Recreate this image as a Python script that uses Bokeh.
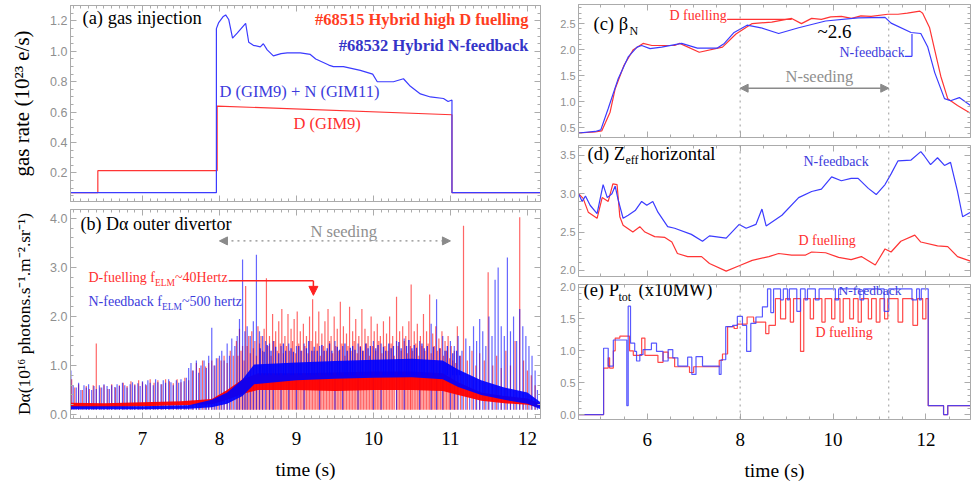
import numpy as np
from bokeh.plotting import figure
from bokeh.models import (Range1d, LinearAxis, Label, Span, Arrow, NormalHead,
                          FixedTicker, PrintfTickFormatter, CustomLabelingPolicy)
from bokeh.layouts import row, column
from bokeh.embed import file_html
from bokeh.resources import INLINE

# ------------------------------------------------------------------ data
# (a) gas injection (1e23 e/s)
gas_t_d = [6.065, 6.42, 6.42, 7.97, 7.97, 11.02, 11.02, 12.17]
gas_v_d = [0.07, 0.07, 0.215, 0.215, 0.64, 0.583, 0.07, 0.07]
gas_t_dn = [6.065, 7.96, 7.96, 7.99, 8.05, 8.08, 8.12, 8.17, 8.23, 8.34, 8.38, 8.44,
            8.53, 8.57, 8.62, 8.70, 8.80, 8.88, 9.05, 9.18, 9.25, 9.42, 9.48, 9.61,
            9.83, 9.99, 10.05, 10.26, 10.39, 10.48, 10.61, 10.74, 10.91, 10.97,
            11.02, 11.02, 12.17]
gas_v_dn = [0.07, 0.07, 1.15, 1.19, 1.23, 1.24, 1.21, 1.087, 1.12, 1.185, 1.06, 1.04,
            1.03, 1.05, 1.01, 0.97, 0.985, 0.99, 0.99, 0.98, 0.95, 0.91, 0.90, 0.90,
            0.875, 0.85, 0.80, 0.80, 0.82, 0.77, 0.72, 0.70, 0.69, 0.67,
            0.68, 0.07, 0.07]

# (b) D-alpha outer divertor (1e16 ph/s/m2/sr): inter-ELM band + ELM spikes
da_band_t_red = [6.065, 6.5, 7.0, 7.5, 7.9, 8.1, 8.3, 8.5, 9.0, 9.5, 10.0, 10.5,
                 10.9, 11.1, 11.4, 11.7, 12.0, 12.17]
da_lo_red = [0.15, 0.15, 0.17, 0.19, 0.21, 0.30, 0.42, 0.50, 0.50, 0.48, 0.50, 0.50,
             0.48, 0.40, 0.28, 0.23, 0.20, 0.14]
da_hi_red = [0.24, 0.23, 0.25, 0.27, 0.32, 0.50, 0.72, 0.84, 0.84, 0.86, 0.88, 0.88,
             0.84, 0.66, 0.45, 0.38, 0.33, 0.22]
da_band_t_blue = [6.065, 7.0, 7.6, 7.9, 8.1, 8.3, 8.45, 9.0, 9.5, 10.0, 10.5, 10.9,
                  11.1, 11.4, 11.7, 12.0, 12.17]
da_lo_blue = [0.11, 0.11, 0.12, 0.15, 0.22, 0.38, 0.62, 0.70, 0.73, 0.75, 0.76, 0.72,
              0.56, 0.40, 0.30, 0.22, 0.11]
da_hi_blue = [0.17, 0.17, 0.19, 0.30, 0.45, 0.72, 1.02, 1.06, 1.09, 1.12, 1.14, 1.10,
              0.92, 0.70, 0.55, 0.45, 0.25]

elm_t_red = [6.08, 6.12, 6.17, 6.22, 6.27, 6.31, 6.36, 6.40, 6.45, 6.50, 6.55, 6.60,
             6.65, 6.70, 6.75, 6.80, 6.85, 6.90, 6.95, 7.00, 7.05, 7.10, 7.15, 7.20,
             7.25, 7.30, 7.35, 7.40, 7.45, 7.50, 7.55, 7.60, 7.65, 7.70, 7.74, 7.78,
             7.82, 7.86, 7.90, 7.94, 7.98, 8.02, 8.06, 8.10, 8.14, 8.18, 8.22, 8.26,
             8.30, 8.34, 8.38, 8.42, 8.46, 8.50, 8.54, 8.58, 8.61, 8.65, 8.69, 8.73,
             8.77, 8.81, 8.85, 8.89, 8.93, 8.97, 9.01, 9.05, 9.09, 9.13, 9.17, 9.21,
             9.25, 9.29, 9.33, 9.37, 9.41, 9.45, 9.49, 9.53, 9.57, 9.61, 9.65, 9.69,
             9.73, 9.77, 9.81, 9.85, 9.89, 9.93, 9.97, 10.01, 10.05, 10.09, 10.13,
             10.17, 10.21, 10.25, 10.30, 10.34, 10.38, 10.42, 10.46, 10.49, 10.53,
             10.57, 10.61, 10.65, 10.69, 10.73, 10.77, 10.81, 10.85, 10.89, 10.93,
             10.97, 11.01, 11.05, 11.09, 11.13, 11.17, 11.22, 11.28, 11.33, 11.38,
             11.44, 11.49, 11.55, 11.60, 11.66, 11.72, 11.78, 11.84, 11.90, 11.95,
             12.00, 12.05, 12.10]
elm_h_red = [0.72, 0.55, 0.62, 0.50, 0.58, 0.52, 0.60, 1.45, 0.55, 0.60, 0.52, 0.62,
             0.55, 0.60, 0.65, 0.58, 0.68, 0.62, 0.70, 0.66, 0.60, 0.72, 0.65, 0.70,
             0.62, 0.72, 0.68, 0.64, 0.72, 0.66, 0.75, 0.70, 0.90, 1.05, 0.95, 1.10,
             0.98, 1.05, 1.10, 1.00, 1.15, 1.10, 1.20, 1.05, 1.30, 1.20, 1.50, 1.75,
             1.40, 2.62, 1.60, 1.70, 1.50, 1.80, 1.60, 1.75, 2.78, 1.60, 2.05, 1.70,
             1.90, 2.15, 1.60, 2.05, 1.75, 1.95, 2.10, 1.70, 1.85, 1.60, 2.00, 2.35,
             1.70, 2.10, 1.65, 1.90, 2.15, 1.60, 2.00, 1.75, 2.30, 1.80, 1.65, 2.20,
             1.70, 1.95, 1.60, 2.15, 1.75, 1.60, 2.00, 1.70, 1.85, 1.60, 1.90,
             1.65, 2.00, 1.60, 2.40, 1.70, 1.80, 1.60, 1.90, 2.65, 1.70,
             1.85, 1.60, 2.05, 1.70, 2.45, 1.65, 1.80, 1.55, 1.70, 1.50,
             1.60, 1.40, 1.30, 1.80, 1.20, 3.85, 1.10, 1.30, 1.00, 1.25,
             1.10, 2.90, 1.00, 1.20, 0.95, 1.30, 1.00, 1.50, 4.02, 1.10,
             0.90, 0.80, 0.60]
elm_t_red_small = [8.24, 8.28, 8.32, 8.36, 8.40, 8.44, 8.48, 8.52, 8.56, 8.63, 8.67,
                   8.71, 8.75, 8.79, 8.83, 8.87, 8.91, 8.95, 8.99, 9.03, 9.07, 9.11,
                   9.15, 9.19, 9.23, 9.27, 9.31, 9.35, 9.39, 9.43, 9.47, 9.51, 9.55,
                   9.59, 9.63, 9.67, 9.71, 9.75, 9.79, 9.83, 9.87, 9.91, 9.95, 9.99,
                   10.03, 10.07, 10.11, 10.15, 10.19, 10.23, 10.27, 10.32, 10.36,
                   10.40, 10.44, 10.48, 10.51, 10.55, 10.59, 10.63, 10.67, 10.71,
                   10.75, 10.79, 10.83, 10.87, 10.91, 10.95, 10.99, 11.03, 11.07]
elm_h_red_small = [1.20, 1.30, 1.10, 1.40, 1.25, 1.35, 1.20, 1.45, 1.30, 1.40, 1.20,
                   1.50, 1.30, 1.45, 1.25, 1.40, 1.30, 1.50, 1.25, 1.45, 1.30, 1.40,
                   1.25, 1.50, 1.30, 1.45, 1.20, 1.40, 1.30, 1.50, 1.25, 1.40, 1.30,
                   1.45, 1.20, 1.40, 1.30, 1.50, 1.25, 1.40, 1.30, 1.45, 1.20, 1.40,
                   1.30, 1.50, 1.25, 1.40, 1.30, 1.45, 1.20, 1.40, 1.30,
                   1.50, 1.25, 1.40, 1.30, 1.45, 1.20, 1.40, 1.30, 1.45,
                   1.25, 1.40, 1.30, 1.35, 1.20, 1.30, 1.15, 1.10, 1.05]

elm_t_blue = [6.07, 6.10, 6.14, 6.17, 6.20, 6.24, 6.27, 6.30, 6.34, 6.37, 6.40, 6.44,
              6.47, 6.50, 6.54, 6.57, 6.60, 6.64, 6.67, 6.70, 6.74, 6.77, 6.80, 6.84,
              6.87, 6.90, 6.94, 6.97, 7.00, 7.04, 7.07, 7.10, 7.14, 7.17, 7.20, 7.24,
              7.27, 7.30, 7.34, 7.37, 7.40, 7.44, 7.47, 7.50, 7.54, 7.57, 7.60, 7.63,
              7.66, 7.70, 7.73, 7.76, 7.80, 7.83, 7.86, 7.90, 7.93, 7.96, 8.00, 8.03,
              8.06, 8.10, 8.13, 8.16, 8.20, 8.23, 8.26, 8.30, 8.33, 8.36, 8.40, 8.44,
              8.48, 8.52, 8.56, 8.60, 8.65, 8.70, 8.80, 8.90, 9.00, 9.10, 9.30, 9.50,
              9.60, 9.80, 10.00, 10.10, 10.30, 10.40, 10.60, 10.75, 10.82, 10.90,
              11.00, 11.05, 11.10, 11.15, 11.20, 11.25, 11.30, 11.34, 11.38, 11.42,
              11.46, 11.50, 11.54, 11.58, 11.62, 11.66, 11.70, 11.74, 11.78, 11.82,
              11.86, 11.90, 11.94, 11.98, 12.02, 12.06, 12.10, 12.13]
elm_h_blue = [0.90, 0.60, 0.55, 0.65, 0.50, 0.60, 0.55, 0.62, 0.50, 0.58, 0.52, 0.60,
              0.55, 0.62, 0.58, 0.52, 0.60, 0.56, 0.62, 0.58, 0.65, 0.60, 0.55, 0.62,
              0.66, 0.60, 0.64, 0.58, 0.68, 0.62, 0.70, 0.65, 0.60, 0.72, 0.66, 0.62,
              0.70, 0.65, 0.72, 0.66, 0.60, 0.70, 0.65, 0.72, 0.68, 0.75, 0.95, 1.05,
              0.90, 1.10, 0.85, 1.00, 1.10, 0.95, 1.20, 1.77, 1.00, 1.15, 1.20, 1.30,
              1.10, 1.45, 1.20, 1.55, 1.40, 1.60, 1.95, 3.16, 1.70, 1.80, 1.60, 1.90,
              3.26, 1.70, 1.60, 1.50, 1.45, 1.50, 1.40, 1.45, 1.40, 1.45, 1.40, 1.50,
              1.40, 1.45, 1.50, 1.45, 1.50, 1.55, 1.50, 1.85, 2.35, 1.60,
              1.50, 1.40, 1.60, 1.30, 1.55, 1.40, 1.80, 1.50, 1.95, 1.70,
              1.40, 2.00, 1.60, 2.75, 3.00, 1.80, 1.60, 3.20, 1.70, 2.00,
              1.50, 2.15, 1.80, 1.60, 1.40, 1.20, 0.90, 0.50]
elm_t_blue_small = [8.53, 8.58, 8.62, 8.67, 8.73, 8.77, 8.83, 8.86, 8.93, 8.96, 9.03,
                    9.06, 9.13, 9.16, 9.20, 9.23, 9.27, 9.33, 9.36, 9.40, 9.43, 9.46,
                    9.53, 9.56, 9.63, 9.66, 9.70, 9.73, 9.76, 9.83, 9.86, 9.90, 9.93,
                    9.96, 10.03, 10.06, 10.13, 10.16, 10.20, 10.23, 10.26, 10.33,
                    10.36, 10.43, 10.46, 10.50, 10.53, 10.56, 10.63, 10.66, 10.70,
                    10.78, 10.86, 10.93, 10.96, 11.03, 11.08, 11.12]
elm_h_blue_small = [1.35, 1.28, 1.42, 1.30, 1.38, 1.25, 1.45, 1.30, 1.35, 1.28, 1.40,
                    1.30, 1.35, 1.50, 1.30, 1.38, 1.30, 1.42, 1.30, 1.35, 1.45, 1.30,
                    1.38, 1.32, 1.45, 1.30, 1.36, 1.40, 1.32, 1.38, 1.30, 1.45, 1.35,
                    1.40, 1.35, 1.42, 1.38, 1.30, 1.45, 1.35, 1.40, 1.48,
                    1.35, 1.40, 1.52, 1.35, 1.42, 1.36, 1.45, 1.35, 1.40,
                    1.38, 1.35, 1.30, 1.40, 1.25, 1.30, 1.20]

# (c) beta_N
beta_t_dn = [4.52, 4.88, 5.00, 5.16, 5.37, 5.59, 5.78, 5.88, 6.06, 6.31, 6.74, 7.08,
             7.51, 7.66, 7.87, 8.15, 8.45, 8.83, 9.26, 9.84, 10.54, 11.12, 11.25,
             11.68, 11.89, 12.04, 12.19, 12.40, 12.53, 12.72, 12.96]
beta_v_dn = [0.40, 0.43, 0.46, 0.87, 1.43, 1.86, 2.05, 2.08, 2.02, 2.05, 2.12, 2.03,
             2.03, 2.12, 2.33, 2.47, 2.42, 2.31, 2.42, 2.55, 2.61, 2.62, 2.51,
             2.33, 2.31, 2.05, 1.56, 1.06, 1.02, 1.08, 0.93]
beta_t_d = [4.52, 4.88, 5.02, 5.20, 5.31, 5.50, 5.70, 5.91, 6.10, 6.59, 6.70, 7.12,
            7.62, 7.91, 8.26, 8.68, 9.11, 9.32, 9.54, 9.75, 9.95, 10.18, 10.40, 10.60,
            10.82, 11.18, 11.40, 11.60, 11.87, 11.93, 12.08, 12.19, 12.32, 12.47,
            12.68, 12.96]
beta_v_d = [0.40, 0.42, 0.44, 0.80, 1.25, 1.70, 2.00, 2.12, 2.08, 2.08, 2.12, 1.95,
            2.05, 2.30, 2.50, 2.53, 2.60, 2.50, 2.60, 2.58, 2.63, 2.64, 2.60, 2.65,
            2.64, 2.68, 2.68, 2.70, 2.74, 2.70, 2.42, 1.99, 1.49, 1.06,
            0.93, 0.78]

# (d) Zeff horizontal
zeff_t_dn = [4.52, 4.60, 4.67, 4.77, 4.92, 5.05, 5.14, 5.24, 5.31, 5.37, 5.48, 5.59,
             5.74, 5.88, 5.99, 6.12, 6.23, 6.44, 6.59, 6.95, 7.19, 7.34, 7.70, 7.98,
             8.13, 8.34, 8.47, 8.56, 8.90, 9.26, 9.54, 9.75, 9.97, 10.18, 10.39,
             10.54, 10.76, 10.93, 11.12, 11.25, 11.40, 11.68, 11.89, 11.97, 12.10,
             12.25, 12.40, 12.53, 12.68, 12.79, 12.96]
zeff_v_dn = [3.00, 2.90, 2.97, 2.85, 2.74, 3.12, 2.95, 3.00, 3.10, 2.93, 2.68, 2.72,
             2.78, 2.90, 2.85, 2.90, 2.76, 2.57, 2.55, 2.47, 2.38, 2.45, 2.42, 2.60,
             2.55, 2.60, 2.80, 2.58, 2.72, 2.95, 3.03, 3.06, 3.22, 3.17, 3.20,
             3.20, 3.07, 2.99, 3.12, 3.26, 3.43, 3.44, 3.55, 3.49, 3.38,
             3.47, 3.37, 3.41, 3.03, 2.70, 2.76]
zeff_t_d = [4.52, 4.62, 4.73, 4.92, 5.03, 5.16, 5.26, 5.35, 5.41, 5.48, 5.69, 5.84,
            5.95, 6.16, 6.38, 6.53, 6.65, 6.87, 7.17, 7.34, 7.70, 7.98, 8.26, 8.62,
            8.83, 9.11, 9.41, 9.54, 9.84, 10.12, 10.39, 10.61, 10.91, 11.12, 11.25,
            11.46, 11.76, 11.89, 12.25, 12.47, 12.68, 12.96]
zeff_v_d = [3.00, 2.94, 2.76, 2.68, 2.95, 2.90, 3.13, 3.12, 2.70, 2.59, 2.50, 2.57,
            2.50, 2.44, 2.43, 2.37, 2.22, 2.18, 2.18, 2.09, 1.99, 2.06, 2.13, 2.18,
            2.22, 2.20, 2.20, 2.24, 2.23, 2.17, 2.14, 2.18, 2.07, 2.28, 2.24,
            2.38, 2.46, 2.37, 2.32, 2.31, 2.18, 2.12]

# (e) P_tot (x10 MW), step-wise
ptot_t_dn = [4.52, 5.06, 5.16, 5.27, 5.56, 5.59, 5.64, 5.73, 5.77, 5.84, 5.91, 6.09,
             6.20, 6.34, 6.45, 6.55, 6.66, 6.87, 6.96, 7.05, 7.19, 7.55, 7.59, 7.69,
             7.84, 7.94, 8.05, 8.14, 8.23, 8.34, 8.48, 8.59, 8.66, 8.72, 8.87, 8.93,
             9.02, 9.06, 9.22, 9.30, 9.40, 9.45, 9.62, 9.70, 10.05, 10.12, 10.58,
             10.66, 11.10, 11.20, 11.70, 11.80, 11.86, 11.90, 12.05, 12.38, 12.47,
             12.96]
ptot_v_dn = [0.00, 1.04, 0.76, 1.17, 0.14, 1.70, 1.12, 0.99, 0.84, 0.94, 1.02, 1.12,
             0.99, 0.84, 1.02, 0.89, 0.76, 0.90, 0.63, 0.91, 0.76, 0.63, 0.86, 1.38,
             1.40, 1.54, 1.40, 0.99, 1.43, 1.53, 1.69, 1.97, 1.60, 1.97, 1.80, 1.97,
             1.80, 1.97, 1.62, 1.97, 1.80, 1.97, 1.80, 1.97, 1.80, 1.97, 1.80,
             1.97, 1.62, 1.97, 1.80, 1.97, 1.80, 1.97, 0.14, 0.00, 0.14,
             0.14]
ptot_t_d = [4.52, 5.06, 5.16, 5.19, 5.27, 5.31, 5.41, 5.62, 5.70, 5.88, 5.95, 6.23,
            6.34, 6.45, 6.59, 6.91, 7.00, 7.55, 7.62, 7.73, 7.87, 7.94, 8.15, 8.29,
            8.55, 8.62, 8.76, 8.87, 8.98, 9.08, 9.15, 9.30, 9.37, 9.51, 9.58, 9.76,
            9.83, 9.97, 10.04, 10.15, 10.22, 10.36, 10.44, 10.54, 10.61, 10.76,
            10.83, 10.93, 11.01, 11.11, 11.18, 11.40, 11.50, 11.72, 11.82, 11.93,
            12.00, 12.05, 12.38, 12.47, 12.96]
ptot_v_d = [0.00, 0.73, 0.89, 0.73, 1.00, 1.20, 1.23, 1.00, 0.93, 1.20, 0.93, 0.82,
            0.98, 0.89, 0.75, 0.66, 0.75, 0.85, 0.95, 1.38, 1.35, 1.42, 1.53, 1.45,
            1.27, 1.40, 1.82, 1.50, 1.82, 1.45, 1.82, 0.99, 1.82, 1.50, 1.82, 1.45,
            1.82, 1.50, 1.82, 1.45, 1.82, 1.50, 1.82, 1.45, 1.82, 1.50,
            1.82, 1.45, 1.82, 1.50, 1.82, 1.45, 1.82, 1.40, 1.82, 1.50,
            1.82, 0.14, 0.00, 0.14, 0.14]

# N-seeding windows
seed_left = (8.0, 11.0)
seed_right = (8.0, 11.2)

# ticks
ticks_x_left = [7, 8, 9, 10, 11, 12]
ticks_x_right = [6, 8, 10, 12]
ticks_a = [0.2, 0.4, 0.6, 0.8, 1.0, 1.2]
ticks_b = [0.0, 1.0, 2.0, 3.0, 4.0]
ticks_c = [0.5, 1.0, 1.5, 2.0, 2.5]
ticks_d = [2.0, 2.5, 3.0, 3.5]
ticks_e = [0.0, 0.5, 1.0, 1.5, 2.0]

# ------------------------------------------------------------------ style
SERIF = "Liberation Serif"
SANS = "Liberation Sans"
GRAY = "#ababab"
RED = "#ff3434"
BLUE = "#3b3bff"
RED_T = "#ff2f2f"
BLUE_T = "#3c3cdc"
GTXT = "#8f8f8f"


def minor(lo, hi, step):
    return [round(v, 3) for v in np.arange(lo, hi + 1e-9, step)]


def base_fig(w, h, l, r, t, b, xr, yr):
    p = figure(width=w, height=h, x_range=Range1d(*xr), y_range=Range1d(*yr),
               output_backend="svg", toolbar_location=None,
               min_border_left=l, min_border_right=r, min_border_top=t,
               min_border_bottom=b, x_axis_type=None, y_axis_type=None)
    p.grid.visible = False
    p.outline_line_color = GRAY
    p.background_fill_color = "white"
    p.border_fill_color = "white"
    return p


def add_axis(p, place, ticks, mticks, labels=False, fmt="%.1f", font=SANS,
             size="12px", color=GTXT, standoff=3, title=None, title_size="20px",
             title_standoff=10):
    ax = LinearAxis(ticker=FixedTicker(ticks=ticks, minor_ticks=mticks))
    ax.axis_line_color = GRAY
    ax.major_tick_line_color = GRAY
    ax.minor_tick_line_color = GRAY
    ax.major_tick_in = 6
    ax.major_tick_out = 0
    ax.minor_tick_in = 3
    ax.minor_tick_out = 0
    if labels:
        ax.formatter = PrintfTickFormatter(format=fmt)
        ax.major_label_text_font = font
        ax.major_label_text_font_size = size
        ax.major_label_text_color = color
        ax.major_label_standoff = standoff
    else:
        ax.major_label_text_font_size = "1px"
        ax.major_label_standoff = 0
        ax.major_label_policy = CustomLabelingPolicy(
            code="for (const i of indices) indices.unset(i)")
    if title is not None:
        ax.axis_label = title
        ax.axis_label_text_font = SERIF
        ax.axis_label_text_font_size = title_size
        ax.axis_label_text_font_style = "normal"
        ax.axis_label_text_color = "black"
        ax.axis_label_standoff = title_standoff
    p.add_layout(ax, place)


def lab(p, sx, sy, text, size, color="black", bold=False, align="left",
        font=SERIF):
    p.add_layout(Label(x=sx, y=sy, x_units="screen", y_units="screen", text=text,
                       text_font=font, text_font_size=f"{size}px",
                       text_color=color, text_align=align, text_baseline="middle",
                       text_font_style="bold" if bold else "normal"))


def vspans(p, locs):
    for loc in locs:
        p.add_layout(Span(location=loc, dimension="height", line_color="#9a9a9a",
                          line_dash="dotted", line_width=1))


XL = (6.065, 12.17)
XR = (4.52, 12.96)
mx_left = minor(6.1, 12.1, 0.1)
mx_right = minor(4.5, 12.9, 0.5)

# ------------------------------------------------------------------ (a)
pa = base_fig(550, 205, 70, 10, 5, 1, XL, (0.012, 1.302))
add_axis(pa, "left", ticks_a, minor(0.05, 1.3, 0.05), labels=True, size="12.5px",
         title="gas rate (10²³ e/s)", title_size="21px", title_standoff=13)
add_axis(pa, "right", ticks_a, minor(0.05, 1.3, 0.05))
add_axis(pa, "below", ticks_x_left, mx_left)
add_axis(pa, "above", ticks_x_left, mx_left)
pa.line(gas_t_d, gas_v_d, line_color=RED, line_width=1.2)
pa.line(gas_t_dn, gas_v_dn, line_color=BLUE, line_width=1.2)
lab(pa, 12, 184, "(a) gas injection", 18.5)
lab(pa, 458, 182, "#68515 Hybrid high D fuelling", 16.5, color="#ff3d1f",
    bold=True, align="right")
lab(pa, 458, 156, "#68532 Hybrid N-feedback", 16.5, color="#3434c8", bold=True,
    align="right")
lab(pa, 149, 110, "D (GIM9) + N (GIM11)", 16.5, color=BLUE_T)
lab(pa, 223, 78, "D (GIM9)", 16.5, color=RED_T)

# ------------------------------------------------------------------ (b)
pb = base_fig(550, 282, 70, 10, 1, 69, XL, (-0.08, 4.18))
add_axis(pb, "left", ticks_b, minor(0.0, 4.2, 0.2), labels=True, size="12.5px",
         title="Dα(10¹⁶ photons.s⁻¹.m⁻².sr⁻¹)", title_size="17.5px",
         title_standoff=13)
add_axis(pb, "right", ticks_b, minor(0.0, 4.2, 0.2))
add_axis(pb, "below", ticks_x_left, mx_left, labels=True, fmt="%d", font=SERIF,
         size="19px", color="black", standoff=13, title="time (s)",
         title_size="19.5px", title_standoff=11)
add_axis(pb, "above", ticks_x_left, mx_left)
spike_base = 0.1
pb.segment(x0=elm_t_red, y0=[spike_base] * len(elm_t_red), x1=elm_t_red,
           y1=elm_h_red, line_color="#ff0000", line_alpha=0.6, line_width=1.2)
pb.segment(x0=elm_t_red_small, y0=[spike_base] * len(elm_t_red_small),
           x1=elm_t_red_small, y1=elm_h_red_small, line_color="#ff0000",
           line_alpha=0.6, line_width=1.2)
pb.segment(x0=elm_t_blue, y0=[spike_base] * len(elm_t_blue), x1=elm_t_blue,
           y1=elm_h_blue, line_color="#0000ff", line_alpha=0.6, line_width=1.2)
pb.varea(x=da_band_t_red, y1=da_lo_red, y2=da_hi_red, fill_color="#ff0000",
         fill_alpha=0.95)
pb.segment(x0=elm_t_blue_small, y0=[0.8] * len(elm_t_blue_small),
           x1=elm_t_blue_small, y1=elm_h_blue_small, line_color="#0000ff",
           line_alpha=0.75, line_width=1.3)
pb.varea(x=da_band_t_blue, y1=da_lo_blue, y2=da_hi_blue, fill_color="#0000ff",
         fill_alpha=0.92)
pb.add_layout(Arrow(x_start=seed_left[0], y_start=3.54, x_end=seed_left[1],
                    y_end=3.54, line_color="#8a8a8a", line_dash="dotted",
                    line_width=1.2,
                    start=NormalHead(size=8, fill_color="#8a8a8a",
                                     line_color="#8a8a8a"),
                    end=NormalHead(size=8, fill_color="#8a8a8a",
                                   line_color="#8a8a8a")))
pb.add_layout(Arrow(x_start=8.12, y_start=2.73, x_end=9.22, y_end=2.73,
                    line_color="#ff2020", line_width=1.5, end=None))
pb.add_layout(Arrow(x_start=9.22, y_start=2.73, x_end=9.22, y_end=2.43,
                    line_color="#ff2020", line_width=1.5,
                    end=NormalHead(size=9, fill_color="#ff2020",
                                   line_color="#ff2020")))
lab(pb, 10, 195, "(b) Dα outer divertor", 18)
lab(pb, 240, 187, "N seeding", 16.5, color=GTXT)
lab(pb, 18, 141, "D-fuelling f", 14, color=RED_T)
lab(pb, 84.5, 136, "ELM", 9.5, color=RED_T)
lab(pb, 104.5, 141, "~40Hertz", 14, color=RED_T)
lab(pb, 18, 117, "N-feedback f", 14, color=BLUE_T)
lab(pb, 91.5, 112, "ELM", 9.5, color=BLUE_T)
lab(pb, 111.5, 117, "~500 hertz", 14, color=BLUE_T)

# ------------------------------------------------------------------ (c)
pc = base_fig(424, 141, 28, 1, 3, 1, XR, (0.314, 2.867))
add_axis(pc, "left", ticks_c, minor(0.4, 2.8, 0.1), labels=True, size="11px")
add_axis(pc, "right", ticks_c, minor(0.4, 2.8, 0.1))
add_axis(pc, "below", ticks_x_right, mx_right)
add_axis(pc, "above", ticks_x_right, mx_right)
vspans(pc, seed_right)
pc.line(beta_t_d, beta_v_d, line_color=RED, line_width=1.2)
pc.line(beta_t_dn, beta_v_dn, line_color=BLUE, line_width=1.2)
pc.add_layout(Arrow(x_start=seed_right[0], y_start=1.26, x_end=seed_right[1],
                    y_end=1.26, line_color="#8a8a8a", line_width=1.5,
                    start=NormalHead(size=8, fill_color="#8a8a8a",
                                     line_color="#8a8a8a"),
                    end=NormalHead(size=8, fill_color="#8a8a8a",
                                   line_color="#8a8a8a")))
pc.add_layout(Arrow(x_start=7.72, y_start=2.58, x_end=9.11, y_end=2.58,
                    line_color=RED, line_width=1.2, end=None))
pc.add_layout(Arrow(x_start=11.55, y_start=1.87, x_end=11.70, y_end=1.87,
                    line_color=BLUE, line_width=1.2, end=None))
pc.add_layout(Arrow(x_start=11.70, y_start=1.87, x_end=11.70, y_end=2.30,
                    line_color=BLUE, line_width=1.2, end=None))
lab(pc, 15, 114, "(c) β", 18.5)
lab(pc, 51, 107, "N", 12)
lab(pc, 91, 122, "D fuelling", 14, color=RED_T)
lab(pc, 239, 106, "~2.6", 19)
lab(pc, 261, 85, "N-feedback", 14, color=BLUE_T)
lab(pc, 207, 61, "N-seeding", 16.5, color=GTXT)

# ------------------------------------------------------------------ (d)
pd_ = base_fig(424, 139, 28, 1, 1, 1, XR, (1.92, 3.63))
add_axis(pd_, "left", ticks_d, minor(1.9, 3.6, 0.1), labels=True, size="11px")
add_axis(pd_, "right", ticks_d, minor(1.9, 3.6, 0.1))
add_axis(pd_, "below", ticks_x_right, mx_right)
add_axis(pd_, "above", ticks_x_right, mx_right)
vspans(pd_, seed_right)
pd_.line(zeff_t_d, zeff_v_d, line_color=RED, line_width=1.2)
pd_.line(zeff_t_dn, zeff_v_dn, line_color=BLUE, line_width=1.2)
lab(pd_, 9, 123, "(d) Z", 18.5)
lab(pd_, 47, 117, "eff", 12)
lab(pd_, 62, 123, "horizontal", 18.5)
lab(pd_, 225, 115, "N-feedback", 14, color=BLUE_T)
lab(pd_, 220, 36, "D fuelling", 14, color=RED_T)

# ------------------------------------------------------------------ (e)
pe = base_fig(424, 207, 28, 1, 2, 68, XR, (-0.077, 2.04))
add_axis(pe, "left", ticks_e, minor(0.0, 2.0, 0.1), labels=True, size="11px")
add_axis(pe, "right", ticks_e, minor(0.0, 2.0, 0.1))
add_axis(pe, "below", ticks_x_right, mx_right, labels=True, fmt="%d", font=SERIF,
         size="19px", color="black", standoff=13, title="time (s)",
         title_size="19.5px", title_standoff=11)
add_axis(pe, "above", ticks_x_right, mx_right)
vspans(pe, seed_right)
pe.step(ptot_t_d, ptot_v_d, mode="after", line_color=RED, line_width=1.2,
        line_alpha=0.9)
pe.step(ptot_t_dn, ptot_v_dn, mode="after", line_color=BLUE, line_width=1.2,
        line_alpha=0.85)
lab(pe, 5, 130, "(e) P", 18.5)
lab(pe, 40, 123, "tot", 12)
lab(pe, 60, 130, "(x10MW)", 18.5)
lab(pe, 260, 129, "N-feedback", 13.5, color=BLUE_T)
lab(pe, 237, 87, "D fuelling", 14, color=RED_T)

layout = row(column(pa, pb), column(pc, pd_, pe))
open("out.html", "w").write(file_html(layout, INLINE))
